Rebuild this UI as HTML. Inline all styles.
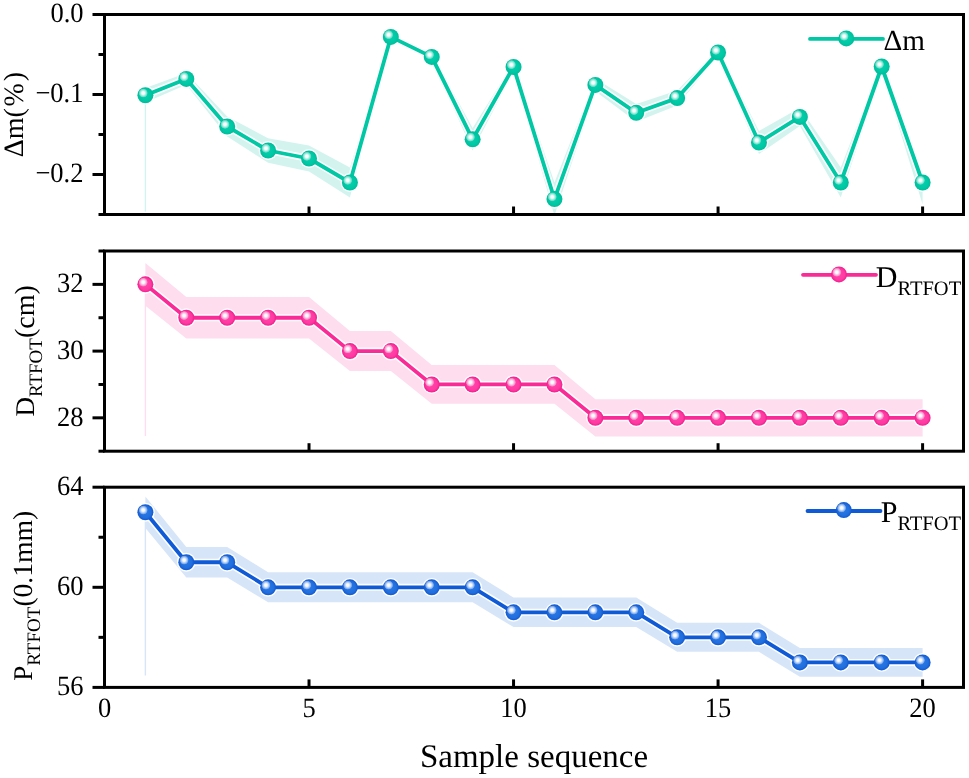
<!DOCTYPE html><html><head><meta charset="utf-8"><style>html,body{margin:0;padding:0;background:#fff;}svg{display:block;will-change:transform;} text{text-rendering:geometricPrecision;}</style></head><body>
<svg width="969" height="778" viewBox="0 0 969 778">
<rect width="969" height="778" fill="#fff"/>
<defs>
<radialGradient id="b0" cx="0.5" cy="0.5" r="0.5"><stop offset="0" stop-color="#08CFAD"/><stop offset="0.7" stop-color="#00C7A4"/><stop offset="1" stop-color="#00BC9A"/></radialGradient>
<radialGradient id="b1" cx="0.5" cy="0.5" r="0.5"><stop offset="0" stop-color="#FF46A9"/><stop offset="0.7" stop-color="#FF3AA2"/><stop offset="1" stop-color="#EE1E8C"/></radialGradient>
<radialGradient id="b2" cx="0.5" cy="0.5" r="0.5"><stop offset="0" stop-color="#2B78E6"/><stop offset="0.7" stop-color="#216EDE"/><stop offset="1" stop-color="#1258CE"/></radialGradient>
<radialGradient id="hl" cx="0.5" cy="0.5" r="0.5"><stop offset="0" stop-color="#fff" stop-opacity="1"/><stop offset="0.3" stop-color="#fff" stop-opacity="0.95"/><stop offset="0.65" stop-color="#fff" stop-opacity="0.6"/><stop offset="0.9" stop-color="#fff" stop-opacity="0.3"/><stop offset="1" stop-color="#fff" stop-opacity="0.05"/></radialGradient>
</defs>
<polygon points="145.40,87.96 186.31,73.10 227.21,116.42 268.12,138.26 309.02,145.54 349.93,167.38 390.83,34.88 431.74,53.08 472.64,128.07 513.55,62.18 554.45,182.45 595.36,78.56 636.26,103.97 677.17,90.58 718.07,49.08 758.98,130.98 799.88,107.68 840.79,167.38 881.69,61.82 922.60,176.10 922.60,204.42 881.69,71.18 840.79,197.62 799.88,126.12 758.98,154.02 718.07,55.92 677.17,105.62 636.26,121.67 595.36,91.24 554.45,215.67 513.55,71.62 472.64,150.53 431.74,60.72 390.83,38.92 349.93,197.62 309.02,171.46 268.12,162.74 227.21,136.58 186.31,84.70 145.40,102.48" fill="#D3F4EE"/>
<line x1="145.40" y1="95.22" x2="145.40" y2="211.6" stroke="#D3F4EE" stroke-width="1.4"/>
<polyline points="145.40,95.22 186.31,78.90 227.21,126.50 268.12,150.50 309.02,158.50 349.93,182.50 390.83,36.90 431.74,56.90 472.64,139.30 513.55,66.90 554.45,199.06 595.36,84.90 636.26,112.82 677.17,98.10 718.07,52.50 758.98,142.50 799.88,116.90 840.79,182.50 881.69,66.50 922.60,182.50" fill="none" stroke="#fff" stroke-width="7.0" stroke-linejoin="round"/>
<circle cx="145.40" cy="95.22" r="9.4" fill="#fff"/>
<circle cx="186.31" cy="78.90" r="9.4" fill="#fff"/>
<circle cx="227.21" cy="126.50" r="9.4" fill="#fff"/>
<circle cx="268.12" cy="150.50" r="9.4" fill="#fff"/>
<circle cx="309.02" cy="158.50" r="9.4" fill="#fff"/>
<circle cx="349.93" cy="182.50" r="9.4" fill="#fff"/>
<circle cx="390.83" cy="36.90" r="9.4" fill="#fff"/>
<circle cx="431.74" cy="56.90" r="9.4" fill="#fff"/>
<circle cx="472.64" cy="139.30" r="9.4" fill="#fff"/>
<circle cx="513.55" cy="66.90" r="9.4" fill="#fff"/>
<circle cx="554.45" cy="199.06" r="9.4" fill="#fff"/>
<circle cx="595.36" cy="84.90" r="9.4" fill="#fff"/>
<circle cx="636.26" cy="112.82" r="9.4" fill="#fff"/>
<circle cx="677.17" cy="98.10" r="9.4" fill="#fff"/>
<circle cx="718.07" cy="52.50" r="9.4" fill="#fff"/>
<circle cx="758.98" cy="142.50" r="9.4" fill="#fff"/>
<circle cx="799.88" cy="116.90" r="9.4" fill="#fff"/>
<circle cx="840.79" cy="182.50" r="9.4" fill="#fff"/>
<circle cx="881.69" cy="66.50" r="9.4" fill="#fff"/>
<circle cx="922.60" cy="182.50" r="9.4" fill="#fff"/>
<polyline points="145.40,95.22 186.31,78.90 227.21,126.50 268.12,150.50 309.02,158.50 349.93,182.50 390.83,36.90 431.74,56.90 472.64,139.30 513.55,66.90 554.45,199.06 595.36,84.90 636.26,112.82 677.17,98.10 718.07,52.50 758.98,142.50 799.88,116.90 840.79,182.50 881.69,66.50 922.60,182.50" fill="none" stroke="#00C7A4" stroke-width="3.8" stroke-linejoin="round"/>
<circle cx="145.40" cy="95.22" r="8.0" fill="url(#b0)"/><circle cx="143.20" cy="93.02" r="4.6" fill="url(#hl)"/>
<circle cx="186.31" cy="78.90" r="8.0" fill="url(#b0)"/><circle cx="184.11" cy="76.70" r="4.6" fill="url(#hl)"/>
<circle cx="227.21" cy="126.50" r="8.0" fill="url(#b0)"/><circle cx="225.01" cy="124.30" r="4.6" fill="url(#hl)"/>
<circle cx="268.12" cy="150.50" r="8.0" fill="url(#b0)"/><circle cx="265.92" cy="148.30" r="4.6" fill="url(#hl)"/>
<circle cx="309.02" cy="158.50" r="8.0" fill="url(#b0)"/><circle cx="306.82" cy="156.30" r="4.6" fill="url(#hl)"/>
<circle cx="349.93" cy="182.50" r="8.0" fill="url(#b0)"/><circle cx="347.73" cy="180.30" r="4.6" fill="url(#hl)"/>
<circle cx="390.83" cy="36.90" r="8.0" fill="url(#b0)"/><circle cx="388.63" cy="34.70" r="4.6" fill="url(#hl)"/>
<circle cx="431.74" cy="56.90" r="8.0" fill="url(#b0)"/><circle cx="429.54" cy="54.70" r="4.6" fill="url(#hl)"/>
<circle cx="472.64" cy="139.30" r="8.0" fill="url(#b0)"/><circle cx="470.44" cy="137.10" r="4.6" fill="url(#hl)"/>
<circle cx="513.55" cy="66.90" r="8.0" fill="url(#b0)"/><circle cx="511.35" cy="64.70" r="4.6" fill="url(#hl)"/>
<circle cx="554.45" cy="199.06" r="8.0" fill="url(#b0)"/><circle cx="552.25" cy="196.86" r="4.6" fill="url(#hl)"/>
<circle cx="595.36" cy="84.90" r="8.0" fill="url(#b0)"/><circle cx="593.16" cy="82.70" r="4.6" fill="url(#hl)"/>
<circle cx="636.26" cy="112.82" r="8.0" fill="url(#b0)"/><circle cx="634.06" cy="110.62" r="4.6" fill="url(#hl)"/>
<circle cx="677.17" cy="98.10" r="8.0" fill="url(#b0)"/><circle cx="674.97" cy="95.90" r="4.6" fill="url(#hl)"/>
<circle cx="718.07" cy="52.50" r="8.0" fill="url(#b0)"/><circle cx="715.87" cy="50.30" r="4.6" fill="url(#hl)"/>
<circle cx="758.98" cy="142.50" r="8.0" fill="url(#b0)"/><circle cx="756.78" cy="140.30" r="4.6" fill="url(#hl)"/>
<circle cx="799.88" cy="116.90" r="8.0" fill="url(#b0)"/><circle cx="797.68" cy="114.70" r="4.6" fill="url(#hl)"/>
<circle cx="840.79" cy="182.50" r="8.0" fill="url(#b0)"/><circle cx="838.59" cy="180.30" r="4.6" fill="url(#hl)"/>
<circle cx="881.69" cy="66.50" r="8.0" fill="url(#b0)"/><circle cx="879.49" cy="64.30" r="4.6" fill="url(#hl)"/>
<circle cx="922.60" cy="182.50" r="8.0" fill="url(#b0)"/><circle cx="920.40" cy="180.30" r="4.6" fill="url(#hl)"/>
<rect x="104.5" y="14.5" width="859.0" height="200.0" fill="none" stroke="#000" stroke-width="3"/>
<line x1="309.02" y1="214.5" x2="309.02" y2="206.5" stroke="#000" stroke-width="3"/>
<line x1="513.55" y1="214.5" x2="513.55" y2="206.5" stroke="#000" stroke-width="3"/>
<line x1="718.07" y1="214.5" x2="718.07" y2="206.5" stroke="#000" stroke-width="3"/>
<line x1="922.60" y1="214.5" x2="922.60" y2="206.5" stroke="#000" stroke-width="3"/>
<polygon points="145.40,263.01 186.31,297.05 227.21,297.05 268.12,297.05 309.02,297.05 349.93,331.08 390.83,331.08 431.74,365.11 472.64,365.11 513.55,365.11 554.45,365.11 595.36,399.15 636.26,399.15 677.17,399.15 718.07,399.15 758.98,399.15 799.88,399.15 840.79,399.15 881.69,399.15 922.60,399.15 922.60,436.52 881.69,436.52 840.79,436.52 799.88,436.52 758.98,436.52 718.07,436.52 677.17,436.52 636.26,436.52 595.36,436.52 554.45,403.82 513.55,403.82 472.64,403.82 431.74,403.82 390.83,371.12 349.93,371.12 309.02,338.42 268.12,338.42 227.21,338.42 186.31,338.42 145.40,305.72" fill="#FEDDEE"/>
<line x1="145.40" y1="284.37" x2="145.40" y2="436.0" stroke="#FEDDEE" stroke-width="1.4"/>
<polyline points="145.40,284.37 186.31,317.73 227.21,317.73 268.12,317.73 309.02,317.73 349.93,351.10 390.83,351.10 431.74,384.47 472.64,384.47 513.55,384.47 554.45,384.47 595.36,417.83 636.26,417.83 677.17,417.83 718.07,417.83 758.98,417.83 799.88,417.83 840.79,417.83 881.69,417.83 922.60,417.83" fill="none" stroke="#fff" stroke-width="7.0" stroke-linejoin="round"/>
<circle cx="145.40" cy="284.37" r="9.4" fill="#fff"/>
<circle cx="186.31" cy="317.73" r="9.4" fill="#fff"/>
<circle cx="227.21" cy="317.73" r="9.4" fill="#fff"/>
<circle cx="268.12" cy="317.73" r="9.4" fill="#fff"/>
<circle cx="309.02" cy="317.73" r="9.4" fill="#fff"/>
<circle cx="349.93" cy="351.10" r="9.4" fill="#fff"/>
<circle cx="390.83" cy="351.10" r="9.4" fill="#fff"/>
<circle cx="431.74" cy="384.47" r="9.4" fill="#fff"/>
<circle cx="472.64" cy="384.47" r="9.4" fill="#fff"/>
<circle cx="513.55" cy="384.47" r="9.4" fill="#fff"/>
<circle cx="554.45" cy="384.47" r="9.4" fill="#fff"/>
<circle cx="595.36" cy="417.83" r="9.4" fill="#fff"/>
<circle cx="636.26" cy="417.83" r="9.4" fill="#fff"/>
<circle cx="677.17" cy="417.83" r="9.4" fill="#fff"/>
<circle cx="718.07" cy="417.83" r="9.4" fill="#fff"/>
<circle cx="758.98" cy="417.83" r="9.4" fill="#fff"/>
<circle cx="799.88" cy="417.83" r="9.4" fill="#fff"/>
<circle cx="840.79" cy="417.83" r="9.4" fill="#fff"/>
<circle cx="881.69" cy="417.83" r="9.4" fill="#fff"/>
<circle cx="922.60" cy="417.83" r="9.4" fill="#fff"/>
<polyline points="145.40,284.37 186.31,317.73 227.21,317.73 268.12,317.73 309.02,317.73 349.93,351.10 390.83,351.10 431.74,384.47 472.64,384.47 513.55,384.47 554.45,384.47 595.36,417.83 636.26,417.83 677.17,417.83 718.07,417.83 758.98,417.83 799.88,417.83 840.79,417.83 881.69,417.83 922.60,417.83" fill="none" stroke="#FA2A96" stroke-width="3.8" stroke-linejoin="round"/>
<circle cx="145.40" cy="284.37" r="8.0" fill="url(#b1)"/><circle cx="143.20" cy="282.17" r="4.6" fill="url(#hl)"/>
<circle cx="186.31" cy="317.73" r="8.0" fill="url(#b1)"/><circle cx="184.11" cy="315.53" r="4.6" fill="url(#hl)"/>
<circle cx="227.21" cy="317.73" r="8.0" fill="url(#b1)"/><circle cx="225.01" cy="315.53" r="4.6" fill="url(#hl)"/>
<circle cx="268.12" cy="317.73" r="8.0" fill="url(#b1)"/><circle cx="265.92" cy="315.53" r="4.6" fill="url(#hl)"/>
<circle cx="309.02" cy="317.73" r="8.0" fill="url(#b1)"/><circle cx="306.82" cy="315.53" r="4.6" fill="url(#hl)"/>
<circle cx="349.93" cy="351.10" r="8.0" fill="url(#b1)"/><circle cx="347.73" cy="348.90" r="4.6" fill="url(#hl)"/>
<circle cx="390.83" cy="351.10" r="8.0" fill="url(#b1)"/><circle cx="388.63" cy="348.90" r="4.6" fill="url(#hl)"/>
<circle cx="431.74" cy="384.47" r="8.0" fill="url(#b1)"/><circle cx="429.54" cy="382.27" r="4.6" fill="url(#hl)"/>
<circle cx="472.64" cy="384.47" r="8.0" fill="url(#b1)"/><circle cx="470.44" cy="382.27" r="4.6" fill="url(#hl)"/>
<circle cx="513.55" cy="384.47" r="8.0" fill="url(#b1)"/><circle cx="511.35" cy="382.27" r="4.6" fill="url(#hl)"/>
<circle cx="554.45" cy="384.47" r="8.0" fill="url(#b1)"/><circle cx="552.25" cy="382.27" r="4.6" fill="url(#hl)"/>
<circle cx="595.36" cy="417.83" r="8.0" fill="url(#b1)"/><circle cx="593.16" cy="415.63" r="4.6" fill="url(#hl)"/>
<circle cx="636.26" cy="417.83" r="8.0" fill="url(#b1)"/><circle cx="634.06" cy="415.63" r="4.6" fill="url(#hl)"/>
<circle cx="677.17" cy="417.83" r="8.0" fill="url(#b1)"/><circle cx="674.97" cy="415.63" r="4.6" fill="url(#hl)"/>
<circle cx="718.07" cy="417.83" r="8.0" fill="url(#b1)"/><circle cx="715.87" cy="415.63" r="4.6" fill="url(#hl)"/>
<circle cx="758.98" cy="417.83" r="8.0" fill="url(#b1)"/><circle cx="756.78" cy="415.63" r="4.6" fill="url(#hl)"/>
<circle cx="799.88" cy="417.83" r="8.0" fill="url(#b1)"/><circle cx="797.68" cy="415.63" r="4.6" fill="url(#hl)"/>
<circle cx="840.79" cy="417.83" r="8.0" fill="url(#b1)"/><circle cx="838.59" cy="415.63" r="4.6" fill="url(#hl)"/>
<circle cx="881.69" cy="417.83" r="8.0" fill="url(#b1)"/><circle cx="879.49" cy="415.63" r="4.6" fill="url(#hl)"/>
<circle cx="922.60" cy="417.83" r="8.0" fill="url(#b1)"/><circle cx="920.40" cy="415.63" r="4.6" fill="url(#hl)"/>
<rect x="104.5" y="251.0" width="859.0" height="200.2" fill="none" stroke="#000" stroke-width="3"/>
<line x1="309.02" y1="451.2" x2="309.02" y2="443.2" stroke="#000" stroke-width="3"/>
<line x1="513.55" y1="451.2" x2="513.55" y2="443.2" stroke="#000" stroke-width="3"/>
<line x1="718.07" y1="451.2" x2="718.07" y2="443.2" stroke="#000" stroke-width="3"/>
<line x1="922.60" y1="451.2" x2="922.60" y2="443.2" stroke="#000" stroke-width="3"/>
<polygon points="145.40,496.46 186.31,547.01 227.21,547.01 268.12,572.28 309.02,572.28 349.93,572.28 390.83,572.28 431.74,572.28 472.64,572.28 513.55,597.56 554.45,597.56 595.36,597.56 636.26,597.56 677.17,622.84 718.07,622.84 758.98,622.84 799.88,648.11 840.79,648.11 881.69,648.11 922.60,648.11 922.60,676.64 881.69,676.64 840.79,676.64 799.88,676.64 758.98,651.86 718.07,651.86 677.17,651.86 636.26,627.09 595.36,627.09 554.45,627.09 513.55,627.09 472.64,602.32 431.74,602.32 390.83,602.32 349.93,602.32 309.02,602.32 268.12,602.32 227.21,577.54 186.31,577.54 145.40,527.99" fill="#D7E5F8"/>
<line x1="145.40" y1="512.23" x2="145.40" y2="675.5" stroke="#D7E5F8" stroke-width="1.4"/>
<polyline points="145.40,512.23 186.31,562.27 227.21,562.27 268.12,587.30 309.02,587.30 349.93,587.30 390.83,587.30 431.74,587.30 472.64,587.30 513.55,612.33 554.45,612.33 595.36,612.33 636.26,612.33 677.17,637.35 718.07,637.35 758.98,637.35 799.88,662.38 840.79,662.38 881.69,662.38 922.60,662.38" fill="none" stroke="#fff" stroke-width="7.0" stroke-linejoin="round"/>
<circle cx="145.40" cy="512.23" r="9.4" fill="#fff"/>
<circle cx="186.31" cy="562.27" r="9.4" fill="#fff"/>
<circle cx="227.21" cy="562.27" r="9.4" fill="#fff"/>
<circle cx="268.12" cy="587.30" r="9.4" fill="#fff"/>
<circle cx="309.02" cy="587.30" r="9.4" fill="#fff"/>
<circle cx="349.93" cy="587.30" r="9.4" fill="#fff"/>
<circle cx="390.83" cy="587.30" r="9.4" fill="#fff"/>
<circle cx="431.74" cy="587.30" r="9.4" fill="#fff"/>
<circle cx="472.64" cy="587.30" r="9.4" fill="#fff"/>
<circle cx="513.55" cy="612.33" r="9.4" fill="#fff"/>
<circle cx="554.45" cy="612.33" r="9.4" fill="#fff"/>
<circle cx="595.36" cy="612.33" r="9.4" fill="#fff"/>
<circle cx="636.26" cy="612.33" r="9.4" fill="#fff"/>
<circle cx="677.17" cy="637.35" r="9.4" fill="#fff"/>
<circle cx="718.07" cy="637.35" r="9.4" fill="#fff"/>
<circle cx="758.98" cy="637.35" r="9.4" fill="#fff"/>
<circle cx="799.88" cy="662.38" r="9.4" fill="#fff"/>
<circle cx="840.79" cy="662.38" r="9.4" fill="#fff"/>
<circle cx="881.69" cy="662.38" r="9.4" fill="#fff"/>
<circle cx="922.60" cy="662.38" r="9.4" fill="#fff"/>
<polyline points="145.40,512.23 186.31,562.27 227.21,562.27 268.12,587.30 309.02,587.30 349.93,587.30 390.83,587.30 431.74,587.30 472.64,587.30 513.55,612.33 554.45,612.33 595.36,612.33 636.26,612.33 677.17,637.35 718.07,637.35 758.98,637.35 799.88,662.38 840.79,662.38 881.69,662.38 922.60,662.38" fill="none" stroke="#0F5AD6" stroke-width="3.8" stroke-linejoin="round"/>
<circle cx="145.40" cy="512.23" r="8.0" fill="url(#b2)"/><circle cx="143.20" cy="510.03" r="4.6" fill="url(#hl)"/>
<circle cx="186.31" cy="562.27" r="8.0" fill="url(#b2)"/><circle cx="184.11" cy="560.07" r="4.6" fill="url(#hl)"/>
<circle cx="227.21" cy="562.27" r="8.0" fill="url(#b2)"/><circle cx="225.01" cy="560.07" r="4.6" fill="url(#hl)"/>
<circle cx="268.12" cy="587.30" r="8.0" fill="url(#b2)"/><circle cx="265.92" cy="585.10" r="4.6" fill="url(#hl)"/>
<circle cx="309.02" cy="587.30" r="8.0" fill="url(#b2)"/><circle cx="306.82" cy="585.10" r="4.6" fill="url(#hl)"/>
<circle cx="349.93" cy="587.30" r="8.0" fill="url(#b2)"/><circle cx="347.73" cy="585.10" r="4.6" fill="url(#hl)"/>
<circle cx="390.83" cy="587.30" r="8.0" fill="url(#b2)"/><circle cx="388.63" cy="585.10" r="4.6" fill="url(#hl)"/>
<circle cx="431.74" cy="587.30" r="8.0" fill="url(#b2)"/><circle cx="429.54" cy="585.10" r="4.6" fill="url(#hl)"/>
<circle cx="472.64" cy="587.30" r="8.0" fill="url(#b2)"/><circle cx="470.44" cy="585.10" r="4.6" fill="url(#hl)"/>
<circle cx="513.55" cy="612.33" r="8.0" fill="url(#b2)"/><circle cx="511.35" cy="610.12" r="4.6" fill="url(#hl)"/>
<circle cx="554.45" cy="612.33" r="8.0" fill="url(#b2)"/><circle cx="552.25" cy="610.12" r="4.6" fill="url(#hl)"/>
<circle cx="595.36" cy="612.33" r="8.0" fill="url(#b2)"/><circle cx="593.16" cy="610.12" r="4.6" fill="url(#hl)"/>
<circle cx="636.26" cy="612.33" r="8.0" fill="url(#b2)"/><circle cx="634.06" cy="610.12" r="4.6" fill="url(#hl)"/>
<circle cx="677.17" cy="637.35" r="8.0" fill="url(#b2)"/><circle cx="674.97" cy="635.15" r="4.6" fill="url(#hl)"/>
<circle cx="718.07" cy="637.35" r="8.0" fill="url(#b2)"/><circle cx="715.87" cy="635.15" r="4.6" fill="url(#hl)"/>
<circle cx="758.98" cy="637.35" r="8.0" fill="url(#b2)"/><circle cx="756.78" cy="635.15" r="4.6" fill="url(#hl)"/>
<circle cx="799.88" cy="662.38" r="8.0" fill="url(#b2)"/><circle cx="797.68" cy="660.17" r="4.6" fill="url(#hl)"/>
<circle cx="840.79" cy="662.38" r="8.0" fill="url(#b2)"/><circle cx="838.59" cy="660.17" r="4.6" fill="url(#hl)"/>
<circle cx="881.69" cy="662.38" r="8.0" fill="url(#b2)"/><circle cx="879.49" cy="660.17" r="4.6" fill="url(#hl)"/>
<circle cx="922.60" cy="662.38" r="8.0" fill="url(#b2)"/><circle cx="920.40" cy="660.17" r="4.6" fill="url(#hl)"/>
<rect x="104.5" y="487.2" width="859.0" height="200.2" fill="none" stroke="#000" stroke-width="3"/>
<line x1="309.02" y1="687.4" x2="309.02" y2="679.4" stroke="#000" stroke-width="3"/>
<line x1="513.55" y1="687.4" x2="513.55" y2="679.4" stroke="#000" stroke-width="3"/>
<line x1="718.07" y1="687.4" x2="718.07" y2="679.4" stroke="#000" stroke-width="3"/>
<line x1="922.60" y1="687.4" x2="922.60" y2="679.4" stroke="#000" stroke-width="3"/>
<line x1="92.5" y1="14.50" x2="104.5" y2="14.50" stroke="#000" stroke-width="3"/>
<line x1="92.5" y1="94.50" x2="104.5" y2="94.50" stroke="#000" stroke-width="3"/>
<line x1="92.5" y1="174.50" x2="104.5" y2="174.50" stroke="#000" stroke-width="3"/>
<line x1="98.5" y1="54.50" x2="104.5" y2="54.50" stroke="#000" stroke-width="3"/>
<line x1="98.5" y1="134.50" x2="104.5" y2="134.50" stroke="#000" stroke-width="3"/>
<line x1="98.5" y1="214.50" x2="104.5" y2="214.50" stroke="#000" stroke-width="3"/>
<line x1="92.5" y1="284.37" x2="104.5" y2="284.37" stroke="#000" stroke-width="3"/>
<line x1="92.5" y1="351.10" x2="104.5" y2="351.10" stroke="#000" stroke-width="3"/>
<line x1="92.5" y1="417.83" x2="104.5" y2="417.83" stroke="#000" stroke-width="3"/>
<line x1="98.5" y1="251.00" x2="104.5" y2="251.00" stroke="#000" stroke-width="3"/>
<line x1="98.5" y1="317.73" x2="104.5" y2="317.73" stroke="#000" stroke-width="3"/>
<line x1="98.5" y1="384.47" x2="104.5" y2="384.47" stroke="#000" stroke-width="3"/>
<line x1="98.5" y1="451.20" x2="104.5" y2="451.20" stroke="#000" stroke-width="3"/>
<line x1="92.5" y1="487.20" x2="104.5" y2="487.20" stroke="#000" stroke-width="3"/>
<line x1="92.5" y1="587.30" x2="104.5" y2="587.30" stroke="#000" stroke-width="3"/>
<line x1="92.5" y1="687.40" x2="104.5" y2="687.40" stroke="#000" stroke-width="3"/>
<line x1="98.5" y1="537.25" x2="104.5" y2="537.25" stroke="#000" stroke-width="3"/>
<line x1="98.5" y1="637.35" x2="104.5" y2="637.35" stroke="#000" stroke-width="3"/>
<text transform="translate(83.5,22.20) scale(1,1.055)" font-family="Liberation Serif, serif" font-size="26.5" text-anchor="end">0.0</text>
<text transform="translate(83.5,102.20) scale(1,1.055)" font-family="Liberation Serif, serif" font-size="26.5" text-anchor="end">−0.1</text>
<text transform="translate(83.5,182.20) scale(1,1.055)" font-family="Liberation Serif, serif" font-size="26.5" text-anchor="end">−0.2</text>
<text transform="translate(83.5,292.07) scale(1,1.055)" font-family="Liberation Serif, serif" font-size="26.5" text-anchor="end">32</text>
<text transform="translate(83.5,358.80) scale(1,1.055)" font-family="Liberation Serif, serif" font-size="26.5" text-anchor="end">30</text>
<text transform="translate(83.5,425.53) scale(1,1.055)" font-family="Liberation Serif, serif" font-size="26.5" text-anchor="end">28</text>
<text transform="translate(83.5,494.90) scale(1,1.055)" font-family="Liberation Serif, serif" font-size="26.5" text-anchor="end">64</text>
<text transform="translate(83.5,595.00) scale(1,1.055)" font-family="Liberation Serif, serif" font-size="26.5" text-anchor="end">60</text>
<text transform="translate(83.5,695.10) scale(1,1.055)" font-family="Liberation Serif, serif" font-size="26.5" text-anchor="end">56</text>
<text transform="translate(104.50,717.2) scale(1,1.055)" font-family="Liberation Serif, serif" font-size="26.5" text-anchor="middle">0</text>
<text transform="translate(309.02,717.2) scale(1,1.055)" font-family="Liberation Serif, serif" font-size="26.5" text-anchor="middle">5</text>
<text transform="translate(513.55,717.2) scale(1,1.055)" font-family="Liberation Serif, serif" font-size="26.5" text-anchor="middle">10</text>
<text transform="translate(718.07,717.2) scale(1,1.055)" font-family="Liberation Serif, serif" font-size="26.5" text-anchor="middle">15</text>
<text transform="translate(922.60,717.2) scale(1,1.055)" font-family="Liberation Serif, serif" font-size="26.5" text-anchor="middle">20</text>
<text x="534" y="766.8" font-family="Liberation Serif, serif" font-size="33" text-anchor="middle">Sample sequence</text>
<text transform="translate(22.8,157.3) rotate(-90)" font-family="Liberation Serif, serif" font-size="28">Δm(<tspan dx="1.8">%</tspan><tspan dx="1.8">)</tspan></text>
<text transform="translate(34.0,416.6) rotate(-90)" font-family="Liberation Serif, serif" font-size="27">D<tspan font-size="19" dy="7.6">RTFOT</tspan><tspan dy="-7.6" font-size="28">(cm)</tspan></text>
<text transform="translate(32.2,680.7) rotate(-90)" font-family="Liberation Serif, serif" font-size="27">P<tspan font-size="19" dy="7.3">RTFOT</tspan><tspan dy="-7.3" font-size="27.6">(0.1mm)</tspan></text>
<line x1="810" y1="38.9" x2="883" y2="38.9" stroke="#00C7A4" stroke-width="3.8" stroke-linecap="round"/>
<circle cx="846.30" cy="38.40" r="8.0" fill="url(#b0)"/><circle cx="844.10" cy="36.20" r="4.6" fill="url(#hl)"/>
<text x="883.5" y="50.2" font-family="Liberation Serif, serif" font-size="29.2">Δm</text>
<line x1="803" y1="274.8" x2="876" y2="274.8" stroke="#FA2A96" stroke-width="3.8" stroke-linecap="round"/>
<circle cx="839.00" cy="274.40" r="8.0" fill="url(#b1)"/><circle cx="836.80" cy="272.20" r="4.6" fill="url(#hl)"/>
<text x="875.8" y="286.5" font-family="Liberation Serif, serif" font-size="30">D<tspan font-size="20.5" dy="8.3">RTFOT</tspan></text>
<line x1="807.5" y1="511" x2="880.5" y2="511" stroke="#0F5AD6" stroke-width="3.8" stroke-linecap="round"/>
<circle cx="843.80" cy="510.10" r="8.0" fill="url(#b2)"/><circle cx="841.60" cy="507.90" r="4.6" fill="url(#hl)"/>
<text x="880.7" y="522.3" font-family="Liberation Serif, serif" font-size="30">P<tspan font-size="20.5" dy="7.6">RTFOT</tspan></text>
</svg></body></html>
